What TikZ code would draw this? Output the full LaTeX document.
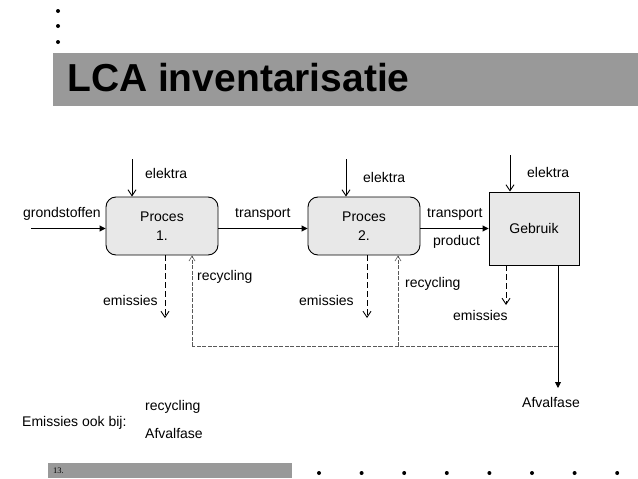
\documentclass[tikz,border=0pt]{standalone}
\usepackage{fontspec}
\setmainfont{Liberation Sans}
\newfontfamily\footfont{Liberation Serif}
\usetikzlibrary{arrows.meta}
\definecolor{barclr}{HTML}{999999}
\definecolor{boxclr}{HTML}{E8E8E8}
\begin{document}
\begin{tikzpicture}[
      x=1pt, y=-1pt,
      font=\fontsize{14}{19}\selectfont,
      lbl/.style={inner sep=0pt, anchor=west},
      procbox/.style={draw, line width=0.9pt, rounded corners=10pt, fill=boxclr,
        minimum width=112pt, minimum height=58pt, align=center},
      usebox/.style={draw, line width=0.9pt, fill=boxclr,
        minimum width=90pt, minimum height=73pt, align=center},
      feed/.style={-{Straight Barb[length=6pt,width=8pt]}, line width=0.9pt},
      flow/.style={-{Triangle[length=6pt,width=6pt]}, line width=0.9pt},
      emis/.style={feed, dash pattern=on 6pt off 3pt},
      recyc/.style={draw=black!65, line width=0.6pt, dash pattern=on 4pt off 1.5pt},
      recarr/.style={recyc, -{Straight Barb[length=5pt,width=6pt]}},
    ]
      \useasboundingbox (0,0) rectangle (638,479);

      % slide frame
      \foreach \y in {11,26,42} \fill (58,\y) circle (2pt);
      \fill[barclr] (53,53) rectangle (638,106);
      \node[lbl, font=\fontsize{39}{39}\selectfont\bfseries] (title) at (67,77.5) {LCA inventarisatie};
      \fill[barclr] (48,463) rectangle (292,478);
      \node[lbl, font=\footfont\fontsize{8.5}{9}\selectfont] (pagenr) at (53,470.5) {13.};
      \foreach \x in {0,...,7} \fill (319+42.6*\x,473) circle (2pt);

      % processes
      \node[procbox] (p1) at (162,226) {Proces\\1.};
      \node[procbox] (p2) at (364,226) {Proces\\2.};
      \node[usebox] (geb) at (534,228.5) {Gebruik};

      % free ends
      \coordinate (gin) at (31,228.5);
      \coordinate (e1) at (132,159);
      \coordinate (e2) at (346,159);
      \coordinate (e3) at (510,155);
      \coordinate (m1) at (165,318);
      \coordinate (m2) at (367,318);
      \coordinate (m3) at (506,305);
      \coordinate (r1) at (192,346);
      \coordinate (r2) at (398,346);
      \coordinate (afend) at (558,388);

      % main flow
      \draw[flow] (gin) -- (gin -| p1.west);
      \draw[flow] (gin -| p1.east) -- (gin -| p2.west);
      \draw[flow] (gin -| p2.east) -- (gin -| geb.west);
      \draw[flow] (geb.south -| afend) -- (afend);

      % energy in
      \draw[feed] (e1) -- (e1 |- p1.north);
      \draw[feed] (e2) -- (e2 |- p2.north);
      \draw[feed] (e3) -- (e3 |- geb.north);

      % emissions out
      \draw[emis] (m1 |- p1.south) -- (m1);
      \draw[emis] (m2 |- p2.south) -- (m2);
      \draw[emis] (m3 |- geb.south) -- (m3);

      % recycling loop
      \draw[recyc] (afend |- r1) -- (r1);
      \draw[recarr] (r1) -- (r1 |- p1.south);
      \draw[recarr] (r2) -- (r2 |- p2.south);

      % labels
      \node[lbl] (lgrond) at (23,214) {grondstoffen};
      \node[lbl] (lel1) at (145,173) {elektra};
      \node[lbl] (ltr1) at (235,214) {transport};
      \node[lbl] (lel2) at (363,177) {elektra};
      \node[lbl] (ltr2) at (427,214) {transport};
      \node[lbl] (lprod) at (433,242) {product};
      \node[lbl] (lel3) at (527,172) {elektra};
      \node[lbl] (lem1) at (103,300) {emissies};
      \node[lbl] (lrec1) at (197,277) {recycling};
      \node[lbl] (lem2) at (299,300) {emissies};
      \node[lbl] (lrec2) at (405,284) {recycling};
      \node[lbl] (lem3) at (453,315) {emissies};
      \node[lbl] (lafv) at (522,402) {Afvalfase};

      % note
      \node[lbl] (note) at (22,423) {Emissies ook bij:};
      \node[lbl] (nrec) at (145,407) {recycling};
      \node[lbl] (nafv) at (145,433) {Afvalfase};

    \end{tikzpicture}
\end{document}
